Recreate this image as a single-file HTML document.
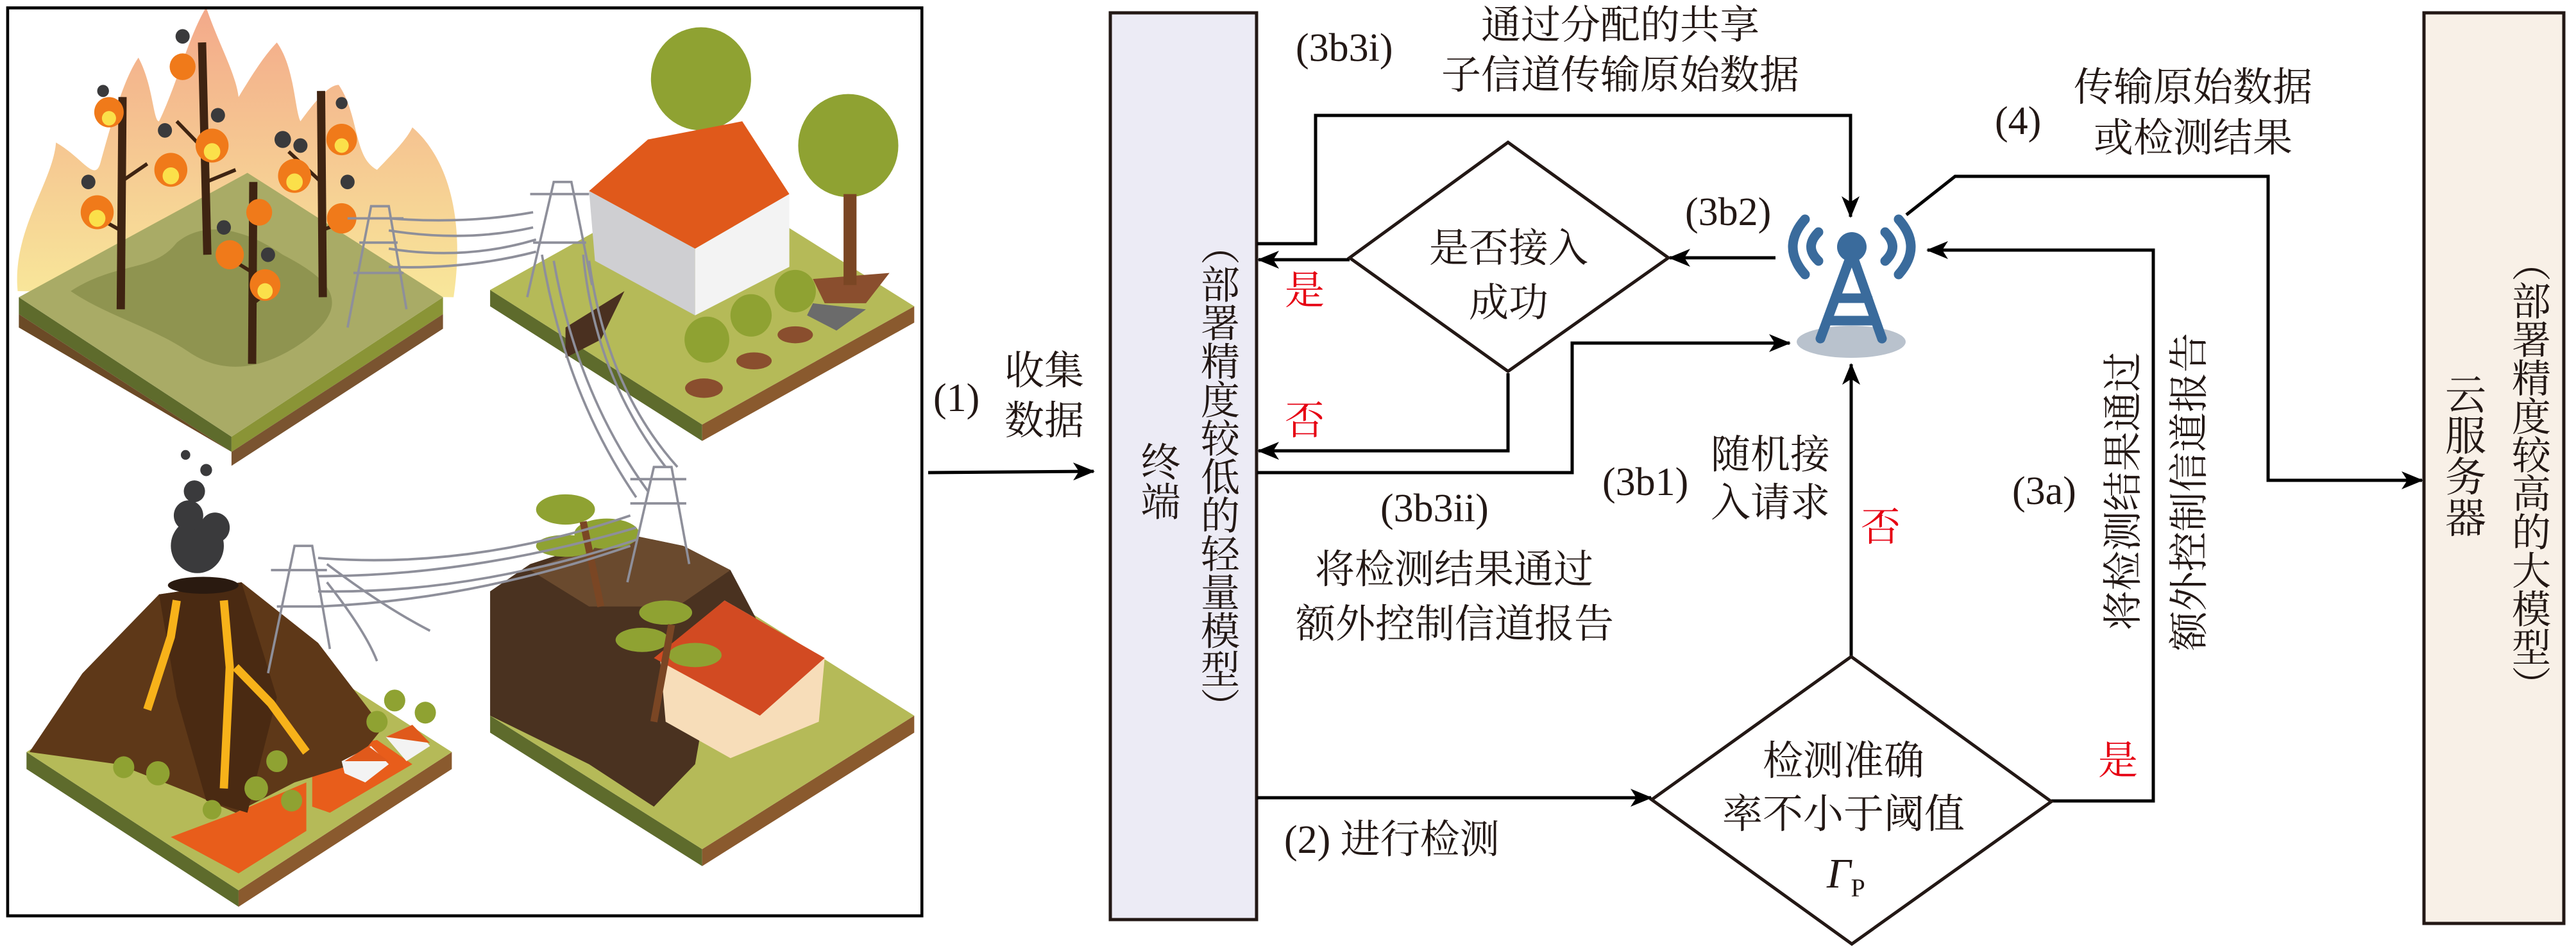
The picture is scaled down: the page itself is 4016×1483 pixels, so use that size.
<!DOCTYPE html>
<html><head><meta charset="utf-8">
<style>
html,body{margin:0;padding:0;background:#fff;}
#c{position:relative;width:4016px;height:1483px;overflow:hidden;background:#fff;}
.t{position:absolute;font-family:"Liberation Serif","Noto Serif CJK SC",serif;font-size:62px;color:#231815;line-height:1;white-space:nowrap;}
.v{writing-mode:vertical-rl;text-orientation:upright;}
.r{color:#e60012;}
.b{font-weight:bold;font-family:"Liberation Serif","Noto Serif CJK SC",serif;}
</style></head><body><div id="c">

<!-- illustration -->
<svg style="position:absolute;left:0;top:0" width="1440" height="1483" viewBox="0 0 1568 1568" preserveAspectRatio="none">
<defs>
<linearGradient id="fg" x1="0" y1="0" x2="0" y2="1"><stop offset="0" stop-color="#f3a98a"/><stop offset="1" stop-color="#f8e79a"/></linearGradient>
</defs>
<path d="M30,480 C20,380 90,300 95,235 C140,260 160,300 170,270 C190,200 210,130 235,95 C260,140 260,200 270,200 C300,140 320,60 350,12 C370,70 400,120 405,160 C430,120 450,90 470,70 C500,110 500,180 510,200 C540,160 560,140 575,140 C610,190 600,260 640,280 C670,250 690,230 700,210 C760,260 790,360 770,490 Z" fill="url(#fg)"/>
<path d="M32,490 L393,720 L393,745 L32,518 Z" fill="#5e6b2c"/><path d="M32,518 L393,745 L393,745 L32,540 Z" fill="#6b4a26"/>
<path d="M393,720 L752,490 L752,518 L393,745 Z" fill="#8a9436"/><path d="M393,745 L752,518 L752,542 L393,768 Z" fill="#7a5430"/>
<path d="M32,490 L420,285 L752,490 L393,720 Z" fill="#a9ab66"/>
<path d="M120,480 C200,430 260,450 300,400 C350,360 420,380 480,420 C560,460 600,500 520,560 C450,610 380,620 320,580 C260,540 180,520 120,480Z" fill="#8f9450"/>
<g stroke="#3f2412" stroke-width="14" fill="none">
<path d="M208,160 L205,510"/><path d="M343,70 L352,420"/><path d="M545,150 L548,490"/><path d="M430,300 L428,600"/>
</g>
<g stroke="#3f2412" stroke-width="6" fill="none">
<path d="M205,380 L150,350 M205,300 L250,270 M350,250 L300,200 M350,300 L400,280 M545,300 L490,250 M545,380 L600,360 M430,450 L380,420 M430,500 L470,470"/>
</g>
<g fill="#f07a1a"><circle cx="185" cy="185" r="25"/><circle cx="165" cy="350" r="28"/><circle cx="290" cy="280" r="28"/><circle cx="360" cy="240" r="28"/><circle cx="310" cy="110" r="22"/><circle cx="500" cy="290" r="28"/><circle cx="580" cy="230" r="26"/><circle cx="580" cy="360" r="25"/><circle cx="440" cy="350" r="22"/><circle cx="390" cy="420" r="24"/><circle cx="450" cy="470" r="26"/></g>
<g fill="#fbe04a"><circle cx="185" cy="195" r="12"/><circle cx="165" cy="360" r="14"/><circle cx="290" cy="290" r="14"/><circle cx="360" cy="250" r="14"/><circle cx="500" cy="300" r="14"/><circle cx="580" cy="240" r="12"/><circle cx="450" cy="480" r="13"/></g>
<g fill="#3a3a3c"><circle cx="175" cy="150" r="10"/><circle cx="150" cy="300" r="12"/><circle cx="280" cy="215" r="12"/><circle cx="310" cy="60" r="12"/><circle cx="370" cy="190" r="12"/><circle cx="480" cy="230" r="14"/><circle cx="510" cy="240" r="12"/><circle cx="580" cy="170" r="10"/><circle cx="590" cy="300" r="12"/><circle cx="380" cy="375" r="12"/><circle cx="455" cy="420" r="12"/></g>
<path d="M832,478 L1192,700 L1192,727 L832,505 Z" fill="#5e6b2c"/><path d="M1192,700 L1552,505 L1552,532 L1192,727 Z" fill="#8a5a2e"/>
<path d="M832,478 L1190,285 L1552,505 L1192,700 Z" fill="#b5ba58"/>
<path d="M960,540 L1060,480 L1020,560 L960,590 Z" fill="#4a3020"/>
<path d="M1380,460 L1510,450 L1470,500 L1400,500Z" fill="#8a4e2e"/>
<path d="M1380,500 L1470,510 L1420,545 L1370,520Z" fill="#6b6b6b"/>
<circle cx="1190" cy="130" r="85" fill="#8fa232"/><circle cx="1440" cy="240" r="85" fill="#8fa232"/><rect x="1432" y="320" width="22" height="150" fill="#7a4624"/>
<path d="M1000,315 L1100,230 L1260,200 L1340,320 L1180,410 Z" fill="#e0591b"/>
<path d="M1000,315 L1180,410 L1180,520 L1010,430 Z" fill="#cfcfd2"/><path d="M1180,410 L1340,320 L1340,440 L1180,520 Z" fill="#f3f3f3"/>
<circle cx="1200" cy="560" r="38" fill="#8fa232"/><circle cx="1275" cy="520" r="35" fill="#8fa232"/><circle cx="1350" cy="480" r="35" fill="#8fa232"/>
<ellipse cx="1195" cy="640" rx="32" ry="16" fill="#8a4e2e"/><ellipse cx="1280" cy="595" rx="30" ry="14" fill="#8a4e2e"/><ellipse cx="1350" cy="552" rx="30" ry="14" fill="#8a4e2e"/>
<path d="M45,1240 L405,1468 L405,1495 L45,1268 Z" fill="#5e6b2c"/><path d="M405,1468 L767,1240 L767,1268 L405,1495 Z" fill="#8a5a2e"/>
<path d="M45,1240 L405,1015 L767,1240 L405,1468 Z" fill="#b5ba58"/>
<path d="M290,1380 L400,1340 L520,1290 L520,1370 L405,1440 Z" fill="#e85d1b"/>
<path d="M530,1240 L640,1220 L700,1260 L560,1340 L530,1330 Z" fill="#e85d1b"/>
<path d="M50,1240 L140,1110 L270,980 L410,960 L540,1060 L650,1200 L600,1260 L500,1290 L400,1340 L330,1310 L200,1260 Z" fill="#5e3818"/>
<path d="M270,980 L410,960 L470,1150 L420,1340 L350,1320 L300,1150 Z" fill="#4a2a12"/>
<path d="M300,990 L290,1050 L250,1170 M380,990 L390,1100 L380,1300 M400,1100 L460,1160 L520,1240" stroke="#f7b21a" stroke-width="14" fill="none"/>
<ellipse cx="345" cy="965" rx="60" ry="14" fill="#2a1a10"/>
<g fill="#3a3a3c"><circle cx="335" cy="900" r="45"/><circle cx="320" cy="850" r="25"/><circle cx="365" cy="870" r="25"/><circle cx="330" cy="810" r="18"/><circle cx="350" cy="775" r="10"/><circle cx="315" cy="750" r="8"/></g>
<g fill="#8fa232"><circle cx="210" cy="1265" r="18"/><circle cx="268" cy="1275" r="20"/><circle cx="435" cy="1300" r="20"/><circle cx="470" cy="1255" r="18"/><circle cx="495" cy="1320" r="18"/><circle cx="640" cy="1190" r="18"/><circle cx="670" cy="1155" r="18"/><circle cx="722" cy="1175" r="18"/><circle cx="360" cy="1335" r="16"/></g>
<path d="M580,1255 L630,1230 L660,1260 L620,1290 L585,1275Z" fill="#f3f3f3"/><path d="M655,1215 L700,1195 L730,1230 L690,1255 Z" fill="#f3f3f3"/>
<path d="M585,1255 L625,1230 L660,1255 Z M655,1215 L700,1195 L730,1225Z" fill="#e0591b"/>
<path d="M832,1180 L1192,1400 L1192,1428 L832,1208 Z" fill="#5e6b2c"/><path d="M1192,1400 L1552,1180 L1552,1208 L1192,1428 Z" fill="#8a5a2e"/>
<path d="M832,1180 L1192,960 L1552,1180 L1192,1400 Z" fill="#b5ba58"/>
<path d="M832,975 L900,930 L1060,880 L1160,900 L1240,940 L1300,1050 L1200,1150 L1180,1260 L1110,1330 L1000,1260 L832,1180 Z" fill="#4a3220"/>
<path d="M900,940 L1060,880 L1160,900 L1240,940 L1150,1000 L1000,1000 Z" fill="#6a4a2e"/>
<path d="M1120,1080 L1230,990 L1400,1085 L1390,1190 L1240,1250 L1130,1190 Z" fill="#f7ddb9"/>
<path d="M1110,1085 L1230,990 L1400,1085 L1290,1180 Z" fill="#d24a22"/>
<g fill="#8fa232"><ellipse cx="960" cy="840" rx="50" ry="25"/><ellipse cx="1030" cy="880" rx="55" ry="25"/><ellipse cx="960" cy="900" rx="50" ry="18"/><ellipse cx="1130" cy="1010" rx="45" ry="20"/><ellipse cx="1090" cy="1055" rx="45" ry="20"/><ellipse cx="1180" cy="1080" rx="45" ry="20"/></g>
<path d="M990,860 L1020,1000 M1140,1030 L1110,1190" stroke="#7a4624" stroke-width="12"/>
<g stroke="#8e8f9a" stroke-width="4" fill="none">
<path d="M590,540 L630,340 L660,340 L690,510 M600,450 L685,450 M610,400 L675,400 M590,360 L685,360"/>
<path d="M895,490 L940,300 L970,300 L1005,470 M905,400 L995,400 M900,320 L1000,320"/>
<path d="M1065,960 L1110,770 L1140,770 L1170,930 M1070,830 L1165,830 M1070,790 L1165,790"/>
<path d="M455,1110 L500,900 L530,900 L560,1070 M460,940 L555,940 M470,1000 L548,1000"/>
<path d="M660,360 Q790,370 905,350 M660,380 Q790,400 905,375 M660,410 Q790,430 910,395 M660,440 Q790,445 910,415"/>
<path d="M920,420 Q960,650 1080,820 M940,430 Q980,650 1100,810 M990,420 Q1010,620 1130,770 M1000,430 Q1030,640 1150,770"/>
<path d="M540,920 Q800,940 1070,850 M540,950 Q800,950 1080,870 M540,975 Q800,980 1080,890 M540,1000 Q800,990 1070,900"/>
<path d="M555,930 Q650,1000 730,1040 M555,960 Q620,1040 640,1090"/>
</g>
<rect x="13" y="13" width="1552" height="1497" fill="none" stroke="#000" stroke-width="5"/>
</svg>

<svg style="position:absolute;left:0;top:0" width="4016" height="1483">
<defs>
<marker id="ar" markerWidth="34" markerHeight="28" refX="32" refY="14" orient="auto" markerUnits="userSpaceOnUse"><path d="M0,0 L34,14 L0,28 L9,14Z" fill="#000"/></marker></defs>
<rect x="1731" y="20" width="228" height="1414" fill="#ecebf5" stroke="#231815" stroke-width="5"/>
<rect x="3779" y="20" width="218" height="1420" fill="#f8f0e7" stroke="#231815" stroke-width="5"/>
<g stroke="#000" stroke-width="5" fill="none">
<path d="M1447,737 L1705,735" marker-end="url(#ar)"/>
<path d="M1960,380 L2051,380 L2051,180 L2885,180 L2885,338" marker-end="url(#ar)"/>
<path d="M2104,405 L1962,405" marker-end="url(#ar)"/>
<path d="M2768,402 L2603,402" marker-end="url(#ar)"/>
<path d="M2351,582 L2351,703 L1962,703" marker-end="url(#ar)"/>
<path d="M1960,737 L2451,737 L2451,535 L2790,535" marker-end="url(#ar)"/>
<path d="M1960,1244 L2574,1244" marker-end="url(#ar)"/>
<path d="M2886,1026 L2886,568" marker-end="url(#ar)"/>
<path d="M3198,1249 L3357,1249 L3357,390 L3005,390" marker-end="url(#ar)"/>
<path d="M2972,335 L3048,275 L3536,275 L3536,749 L3776,749" marker-end="url(#ar)"/>
</g>
<path d="M2104,402 L2351,222 L2601,402 L2351,579 Z" fill="none" stroke="#231815" stroke-width="5"/>
<path d="M2575,1247 L2886,1024 L3198,1250 L2887,1472 Z" fill="none" stroke="#231815" stroke-width="5"/>
<ellipse cx="2886" cy="533" rx="85" ry="25" fill="#b9c2cd"/>
<g stroke="#3a6b9c" stroke-width="15" stroke-linecap="round" fill="none">
<path d="M2887,395 L2838,528 M2887,395 L2934,528 M2862,465 L2912,465 M2852,500 L2922,500"/>
<path d="M2835,362 Q2812,385 2835,407 M2939,362 Q2962,385 2939,407"/>
<path d="M2814,342 Q2776,385 2814,428 M2960,342 Q2998,385 2960,428"/>
</g>
<circle cx="2887" cy="385" r="23" fill="#3a6b9c"/>
</svg>

<div class="t" style="left:1455px;top:590px">(1)</div>
<div class="t" style="left:1566px;top:548px">收集</div>
<div class="t" style="left:1566px;top:626px">数据</div>

<div class="t v" style="left:1772px;top:688px;font-size:62px">终端</div>
<div class="t v" style="left:1866px;top:352px;font-size:61px;letter-spacing:-1px">（部署精度较低的轻量模型）</div>

<div class="t v" style="left:3806px;top:582px;font-size:64px">云服务器</div>
<div class="t v" style="left:3910px;top:378px;font-size:61px;letter-spacing:-1px">（部署精度较高的大模型）</div>

<div class="t" style="left:2020px;top:44px">(3b3i)</div>
<div class="t" style="left:2309px;top:9px">通过分配的共享</div>
<div class="t" style="left:2247px;top:87px">子信道传输原始数据</div>

<div class="t" style="left:3110px;top:158px">(4)</div>
<div class="t" style="left:3233px;top:106px">传输原始数据</div>
<div class="t" style="left:3264px;top:185px">或检测结果</div>

<div class="t" style="left:2627px;top:300px">(3b2)</div>
<div class="t" style="left:2228px;top:357px">是否接入</div>
<div class="t" style="left:2290px;top:442px">成功</div>
<div class="t r" style="left:2003px;top:423px">是</div>
<div class="t r" style="left:2003px;top:626px">否</div>

<div class="t" style="left:2498px;top:721px">(3b1)</div>
<div class="t" style="left:2667px;top:679px">随机接</div>
<div class="t" style="left:2667px;top:754px">入请求</div>
<div class="t r" style="left:2901px;top:792px">否</div>

<div class="t" style="left:2152px;top:762px">(3b3ii)</div>
<div class="t" style="left:2050px;top:858px">将检测结果通过</div>
<div class="t" style="left:2020px;top:943px">额外控制信道报告</div>

<div class="t" style="left:3137px;top:735px">(3a)</div>
<div class="t" style="left:3311px;top:766px;transform:translate(-50%,-50%) rotate(-90deg)">将检测结果通过</div>
<div class="t" style="left:3414px;top:767px;transform:translate(-50%,-50%) rotate(-90deg)">额外控制信道报告</div>
<div class="t r" style="left:3271px;top:1156px">是</div>

<div class="t" style="left:2002px;top:1279px">(2) 进行检测</div>

<div class="t" style="left:2748px;top:1156px;font-size:63px">检测准确</div>
<div class="t" style="left:2685px;top:1239px;font-size:63px">率不小于阈值</div>
<div class="t" style="left:2848px;top:1330px;font-style:italic;font-size:66px">Γ<span style="font-style:normal;font-size:40px;vertical-align:-14px">P</span></div>

</div></body></html>
